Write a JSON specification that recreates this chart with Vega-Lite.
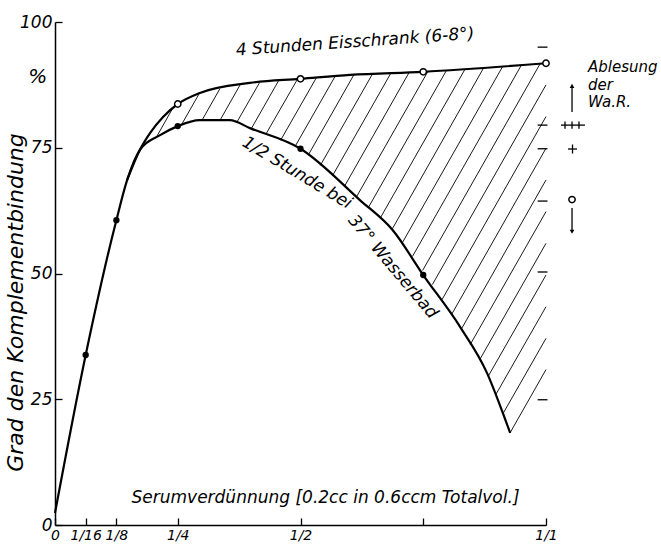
{
  "$schema": "https://vega.github.io/schema/vega-lite/v6.json",
  "width": 491,
  "height": 503,
  "autosize": {"type": "none"},
  "padding": {"left": 55, "top": 22, "right": 115, "bottom": 22},
  "background": "white",
  "config": {"view": {"stroke": null}, "font": "DejaVu Sans"},
  "datasets": {
    "curves": [
      {"series": "1/2 Stunde bei 37° Wasserbad", "x": 0, "y": 2.4},
      {"series": "1/2 Stunde bei 37° Wasserbad", "x": 0.0625, "y": 33.8},
      {"series": "1/2 Stunde bei 37° Wasserbad", "x": 0.125, "y": 60.6},
      {"series": "1/2 Stunde bei 37° Wasserbad", "x": 0.147, "y": 68.6},
      {"series": "1/2 Stunde bei 37° Wasserbad", "x": 0.173, "y": 74.6},
      {"series": "1/2 Stunde bei 37° Wasserbad", "x": 0.214, "y": 77.5},
      {"series": "1/2 Stunde bei 37° Wasserbad", "x": 0.25, "y": 79.3},
      {"series": "1/2 Stunde bei 37° Wasserbad", "x": 0.295, "y": 80.5},
      {"series": "1/2 Stunde bei 37° Wasserbad", "x": 0.356, "y": 80.5},
      {"series": "1/2 Stunde bei 37° Wasserbad", "x": 0.397, "y": 78.9},
      {"series": "1/2 Stunde bei 37° Wasserbad", "x": 0.5, "y": 74.8},
      {"series": "1/2 Stunde bei 37° Wasserbad", "x": 0.621, "y": 64.6},
      {"series": "1/2 Stunde bei 37° Wasserbad", "x": 0.688, "y": 58.6},
      {"series": "1/2 Stunde bei 37° Wasserbad", "x": 0.75, "y": 49.7},
      {"series": "1/2 Stunde bei 37° Wasserbad", "x": 0.825, "y": 39.4},
      {"series": "1/2 Stunde bei 37° Wasserbad", "x": 0.88, "y": 30.2},
      {"series": "1/2 Stunde bei 37° Wasserbad", "x": 0.912, "y": 22.3},
      {"series": "1/2 Stunde bei 37° Wasserbad", "x": 0.927, "y": 18.3},
      {"series": "4 Stunden Eisschrank (6-8°)", "x": 0.147, "y": 68.6},
      {"series": "4 Stunden Eisschrank (6-8°)", "x": 0.173, "y": 74.6},
      {"series": "4 Stunden Eisschrank (6-8°)", "x": 0.1935, "y": 77.9},
      {"series": "4 Stunden Eisschrank (6-8°)", "x": 0.22, "y": 81.1},
      {"series": "4 Stunden Eisschrank (6-8°)", "x": 0.25, "y": 83.7},
      {"series": "4 Stunden Eisschrank (6-8°)", "x": 0.295, "y": 85.9},
      {"series": "4 Stunden Eisschrank (6-8°)", "x": 0.397, "y": 87.9},
      {"series": "4 Stunden Eisschrank (6-8°)", "x": 0.5, "y": 88.7},
      {"series": "4 Stunden Eisschrank (6-8°)", "x": 0.601, "y": 89.5},
      {"series": "4 Stunden Eisschrank (6-8°)", "x": 0.75, "y": 90.1},
      {"series": "4 Stunden Eisschrank (6-8°)", "x": 1.0, "y": 91.8}
    ],
    "hatch": [
      {"x": 1.0, "y": 30.9, "x2": 0.9267, "y2": 18.3},
      {"x": 1.0, "y": 37.1, "x2": 0.9128, "y2": 22.2},
      {"x": 1.0, "y": 43.4, "x2": 0.8976, "y2": 25.9},
      {"x": 1.0, "y": 49.7, "x2": 0.8825, "y2": 29.6},
      {"x": 1.0, "y": 56.0, "x2": 0.8646, "y2": 32.8},
      {"x": 1.0, "y": 62.3, "x2": 0.8458, "y2": 35.9},
      {"x": 1.0, "y": 68.6, "x2": 0.8273, "y2": 38.9},
      {"x": 1.0, "y": 74.9, "x2": 0.808, "y2": 41.9},
      {"x": 1.0, "y": 81.2, "x2": 0.7882, "y2": 44.8},
      {"x": 1.0, "y": 87.5, "x2": 0.7686, "y2": 47.8},
      {"x": 0.9886, "y": 91.8, "x2": 0.7487, "y2": 50.6},
      {"x": 0.9503, "y": 91.5, "x2": 0.7281, "y2": 53.4},
      {"x": 0.912, "y": 91.2, "x2": 0.7073, "y2": 56.1},
      {"x": 0.8737, "y": 91.0, "x2": 0.6866, "y2": 58.8},
      {"x": 0.8356, "y": 90.7, "x2": 0.6623, "y2": 61.0},
      {"x": 0.7974, "y": 90.4, "x2": 0.6381, "y2": 63.1},
      {"x": 0.7591, "y": 90.1, "x2": 0.6138, "y2": 65.2},
      {"x": 0.7214, "y": 90.0, "x2": 0.5894, "y2": 67.3},
      {"x": 0.6839, "y": 89.8, "x2": 0.565, "y2": 69.4},
      {"x": 0.6462, "y": 89.6, "x2": 0.5405, "y2": 71.5},
      {"x": 0.6087, "y": 89.5, "x2": 0.5161, "y2": 73.6},
      {"x": 0.5705, "y": 89.2, "x2": 0.4892, "y2": 75.3},
      {"x": 0.5322, "y": 88.9, "x2": 0.4595, "y2": 76.5},
      {"x": 0.4937, "y": 88.6, "x2": 0.4295, "y2": 77.7},
      {"x": 0.4552, "y": 88.3, "x2": 0.3998, "y2": 78.8},
      {"x": 0.4169, "y": 88.0, "x2": 0.3699, "y2": 80.0},
      {"x": 0.377, "y": 87.5, "x2": 0.3363, "y2": 80.5},
      {"x": 0.3356, "y": 86.7, "x2": 0.2996, "y2": 80.5},
      {"x": 0.2939, "y": 85.8, "x2": 0.2566, "y2": 79.4},
      {"x": 0.2383, "y": 82.6, "x2": 0.2053, "y2": 76.9}
    ],
    "signs": [
      {"x": 0.983, "y": 95.0, "x2": 1.003, "y2": 95.0},
      {"x": 0.983, "y": 79.5, "x2": 1.003, "y2": 79.5},
      {"x": 0.983, "y": 74.8, "x2": 1.003, "y2": 74.8},
      {"x": 0.983, "y": 64.4, "x2": 1.003, "y2": 64.4},
      {"x": 0.983, "y": 50.3, "x2": 1.003, "y2": 50.3},
      {"x": 0.983, "y": 24.9, "x2": 1.003, "y2": 24.9},
      {"x": 1.0305, "y": 79.5, "x2": 1.0794, "y2": 79.5},
      {"x": 1.0387, "y": 78.8, "x2": 1.0387, "y2": 80.2},
      {"x": 1.053, "y": 78.8, "x2": 1.053, "y2": 80.2},
      {"x": 1.0672, "y": 78.8, "x2": 1.0672, "y2": 80.2},
      {"x": 1.0448, "y": 74.75, "x2": 1.0631, "y2": 74.75},
      {"x": 1.054, "y": 73.85, "x2": 1.054, "y2": 75.65},
      {"x": 1.053, "y": 82.1, "x2": 1.053, "y2": 87.0},
      {"x": 1.053, "y": 63.0, "x2": 1.053, "y2": 58.6}
    ]
  },
  "encoding": {
    "x": {
      "field": "x", "type": "quantitative",
      "scale": {"domain": [0, 1], "nice": false, "zero": false},
      "axis": {
        "values": [0, 0.0625, 0.125, 0.25, 0.5, 0.75, 1],
        "labelExpr": "datum.value == 0 ? '0' : datum.value == 0.0625 ? '1/16' : datum.value == 0.125 ? '1/8' : datum.value == 0.25 ? '1/4' : datum.value == 0.5 ? '1/2' : datum.value == 1 ? '1/1' : ''",
        "grid": false,
        "domainColor": "black", "domainWidth": 1.5,
        "tickColor": "black", "tickWidth": 1.3, "tickSize": -7,
        "labelPadding": 10,
        "labelFont": "DejaVu Sans", "labelFontStyle": "italic", "labelFontSize": 14,
        "labelColor": "black", "labelFlush": false, "labelOverlap": false,
        "title": "Serumverdünnung [0.2cc in 0.6ccm Totalvol.]",
        "titleFont": "DejaVu Sans", "titleFontStyle": "italic", "titleFontWeight": "normal",
        "titleFontSize": 17, "titleColor": "black",
        "titleX": 270, "titleY": -28, "titleAlign": "center", "titleBaseline": "middle"
      }
    },
    "y": {
      "field": "y", "type": "quantitative",
      "scale": {"domain": [0, 100], "nice": false},
      "axis": {
        "values": [0, 25, 50, 75, 100],
        "grid": false,
        "domainColor": "black", "domainWidth": 1.5,
        "tickColor": "black", "tickWidth": 1.3, "tickSize": -7,
        "labelPadding": 10,
        "labelFont": "DejaVu Sans", "labelFontStyle": "italic", "labelFontSize": 17,
        "labelColor": "black", "labelFlush": false, "labelOverlap": false,
        "title": "Grad den Komplementbindung",
        "titleFont": "DejaVu Sans", "titleFontStyle": "italic", "titleFontWeight": "normal",
        "titleFontSize": 22, "titleColor": "black",
        "titleX": -40, "titleY": 280, "titleAngle": -90, "titleAlign": "center", "titleBaseline": "middle"
      }
    }
  },
  "layer": [
    {
      "data": {"name": "hatch"},
      "mark": {"type": "rule", "color": "black", "strokeWidth": 0.9},
      "encoding": {
        "x2": {"field": "x2"},
        "y2": {"field": "y2"}
      }
    },
    {
      "data": {"name": "curves"},
      "mark": {"type": "line", "color": "black", "strokeWidth": 2.2, "interpolate": "monotone"},
      "encoding": {
        "detail": {"field": "series"}
      }
    },
    {
      "data": {"values": [
        {"x": 0.0625, "y": 33.8}, {"x": 0.125, "y": 60.6}, {"x": 0.25, "y": 79.3},
        {"x": 0.5, "y": 74.8}, {"x": 0.75, "y": 49.7}
      ]},
      "mark": {"type": "point", "filled": true, "color": "black", "size": 40, "opacity": 1},
      "encoding": {}
    },
    {
      "data": {"values": [
        {"x": 0.25, "y": 83.7}, {"x": 0.5, "y": 88.7}, {"x": 0.75, "y": 90.1}, {"x": 1.0, "y": 91.8},
        {"x": 1.053, "y": 64.7}
      ]},
      "mark": {"type": "point", "filled": false, "fill": "white", "stroke": "black", "strokeWidth": 1.5, "size": 40, "opacity": 1, "fillOpacity": 1},
      "encoding": {}
    },
    {
      "data": {"name": "signs"},
      "mark": {"type": "rule", "color": "black", "strokeWidth": 1.3},
      "encoding": {
        "x2": {"field": "x2"},
        "y2": {"field": "y2"}
      }
    },
    {
      "data": {"values": [
        {"x": 1.053, "y": 87.3, "dir": "up"},
        {"x": 1.053, "y": 58.3, "dir": "down"}
      ]},
      "mark": {"type": "point", "filled": true, "color": "black", "size": 22, "opacity": 1},
      "encoding": {
        "shape": {"field": "dir", "type": "nominal", "scale": {"domain": ["up", "down"], "range": ["triangle-up", "triangle-down"]}, "legend": null}
      }
    },
    {
      "data": {"values": [
        {"label": "Ablesung", "x": 1.0855, "y": 91.1},
        {"label": "der", "x": 1.0855, "y": 87.5},
        {"label": "Wa.R.", "x": 1.0855, "y": 84.1}
      ]},
      "mark": {"type": "text", "font": "DejaVu Sans", "fontStyle": "italic", "fontSize": 15, "align": "left", "baseline": "middle", "color": "black"},
      "encoding": {"text": {"field": "label"}}
    },
    {
      "data": {"values": [{"label": "%", "x": -0.035, "y": 89}]},
      "mark": {"type": "text", "font": "DejaVu Sans", "fontStyle": "italic", "fontSize": 20, "align": "center", "baseline": "middle", "color": "black"},
      "encoding": {"text": {"field": "label"}}
    },
    {
      "data": {"values": [{"label": "4 Stunden Eisschrank (6-8°)", "x": 0.611, "y": 96.0}]},
      "mark": {"type": "text", "font": "DejaVu Sans", "fontStyle": "italic", "fontSize": 17, "angle": -4, "align": "center", "baseline": "middle", "color": "black"},
      "encoding": {"text": {"field": "label"}}
    },
    {
      "data": {"values": [{"label": "1/2 Stunde bei", "x": 0.493, "y": 70.0}]},
      "mark": {"type": "text", "font": "DejaVu Sans", "fontStyle": "italic", "fontSize": 17, "angle": 31, "align": "center", "baseline": "middle", "color": "black"},
      "encoding": {"text": {"field": "label"}}
    },
    {
      "data": {"values": [{"label": "37° Wasserbad", "x": 0.688, "y": 51.3}]},
      "mark": {"type": "text", "font": "DejaVu Sans", "fontStyle": "italic", "fontSize": 17, "angle": 50, "align": "center", "baseline": "middle", "color": "black"},
      "encoding": {"text": {"field": "label"}}
    }
  ]
}
